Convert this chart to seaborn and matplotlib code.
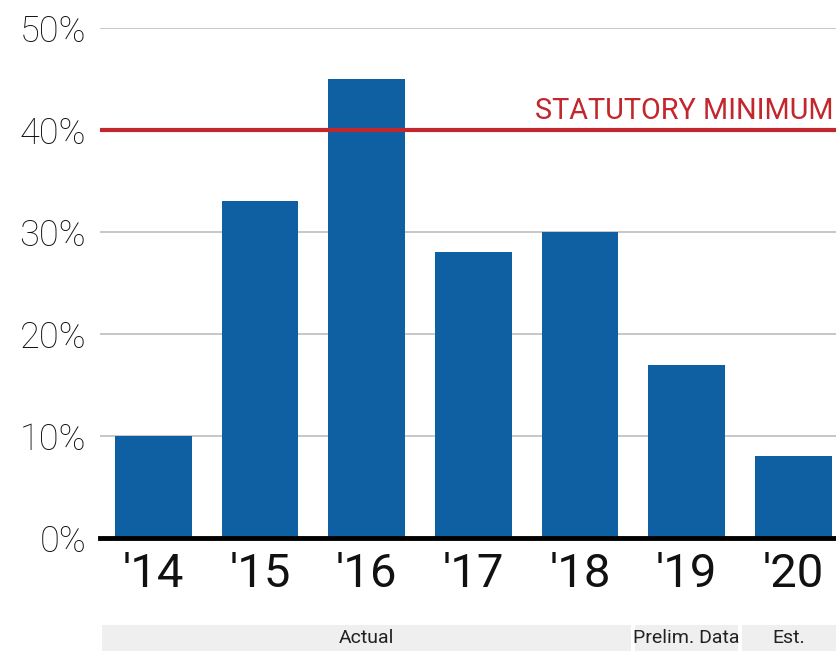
import matplotlib
matplotlib.use("Agg")
import matplotlib.pyplot as plt
import matplotlib.transforms as mtransforms
from matplotlib.patches import Rectangle
import pandas as pd
import seaborn as sns

# Data
years = ["'14", "'15", "'16", "'17", "'18", "'19", "'20"]
values = [10, 33, 45, 28, 30, 17, 8]
statutory_min = 40
yticks = [0, 10, 20, 30, 40, 50]

band_labels = ["Actual", "Prelim. Data", "Est."]
band_first = [0, 5, 6]
band_last = [4, 5, 6]

df = pd.DataFrame({"year": years, "share": values})

sns.set_theme(style="white")
plt.rcParams["font.family"] = ["Roboto", "DejaVu Sans"]

fig = plt.figure(figsize=(8.36, 6.51), dpi=100)
ax = fig.add_axes([100 / 836, 1 - 538 / 651, 736 / 836, 510 / 651])

sns.barplot(data=df, x="year", y="share", order=years, color="#0f5fa3",
            saturation=1, width=0.72, linewidth=0, ax=ax, zorder=3)

ax.set_xlim(-0.5, 6.4)
ax.set_ylim(0, 50)
ax.set_yticks(yticks)
ax.set_yticklabels([f"{t}%" for t in yticks])
ax.yaxis.grid(True, color="#bdbdbd", linewidth=1.2, zorder=0)
ax.set_axisbelow(True)
ax.tick_params(axis="y", labelsize=26, pad=10, length=0, labelcolor="#111111")
ax.tick_params(axis="x", labelsize=34, pad=10, length=0, labelcolor="#111111")
for lab in ax.get_yticklabels():
    lab.set_fontweight("light")
ax.set_xlabel("")
ax.set_ylabel("")
for side in ["top", "right", "left"]:
    ax.spines[side].set_visible(False)
ax.spines["bottom"].set_color("black")
ax.spines["bottom"].set_linewidth(3.5)
ax.spines["bottom"].set_zorder(5)

# statutory minimum line
ax.axhline(statutory_min, color="#c1272d", linewidth=3, zorder=4)
ax.text(6.38, statutory_min + 0.45, "STATUTORY MINIMUM", color="#c1272d",
        fontsize=20.8, ha="right", va="bottom")

# period bands below the axis
trans = mtransforms.blended_transform_factory(ax.transData, fig.transFigure)
gap = 0.02
for lab, a, b in zip(band_labels, band_first, band_last):
    x0 = max(a - 0.5 + gap, -0.5)
    x1 = min(b + 0.5 - gap, 6.4)
    ax.add_patch(Rectangle((x0, 0), x1 - x0, 26 / 651, transform=trans,
                           facecolor="#efefef", edgecolor="none", clip_on=False))
    ax.text((x0 + x1) / 2, 13 / 651, lab, transform=trans, ha="center",
            va="center", fontsize=14, color="#222222")

fig.savefig("out.png", dpi=100)
